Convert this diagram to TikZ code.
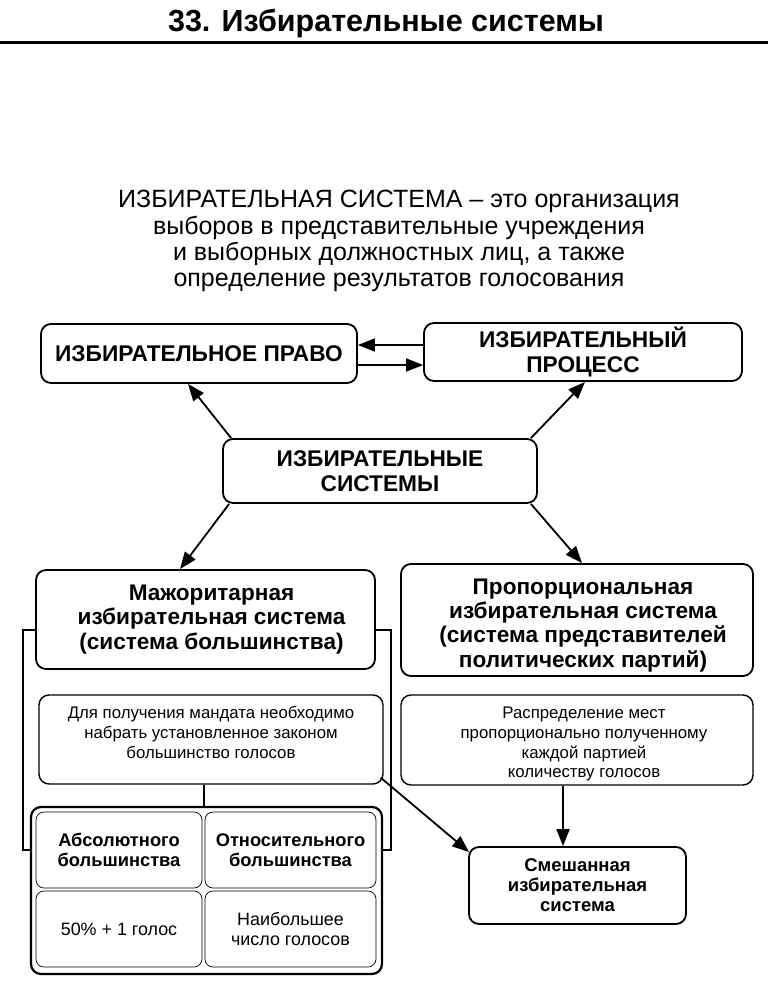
\documentclass[tikz,border=0pt]{standalone}
\usepackage{fontspec}
\setmainfont{Liberation Sans}
\usetikzlibrary{arrows.meta,calc}
\tikzset{
  box/.style={draw, line width=1.8pt, rounded corners=10pt, align=center, inner sep=0pt},
  descbox/.style={draw, line width=1.4pt, rounded corners=10pt, align=center, inner sep=0pt},
  cellbox/.style={draw, line width=0.7pt, rounded corners=8pt, align=center, inner sep=0pt},
  arr/.style={line width=1.8pt, -{Triangle[length=17pt,width=13pt]}},
  thinline/.style={line width=1.2pt},
  hfont/.style={font=\fontsize{22.7}{25}\selectfont\bfseries},
  mfont/.style={font=\fontsize{22.6}{24.3}\selectfont\bfseries},
  dfont/.style={font=\fontsize{16.8}{19.8}\selectfont},
  cfont/.style={font=\fontsize{17.9}{20}\selectfont},
  sfont/.style={font=\fontsize{18.3}{19.5}\selectfont\bfseries},
  xfont/.style={font=\fontsize{18.5}{20}\selectfont\bfseries}
}
\begin{document}
\begin{tikzpicture}[x=1pt,y=-1pt]
\useasboundingbox (0,0) rectangle (768,992);
\fill[white] (0,0) rectangle (768,992);
% title
\node[anchor=base, inner sep=0pt, font=\fontsize{30.5}{34}\selectfont\bfseries] (title) at (386,32) {33. Избирательные системы};
\coordinate (rl) at (0,43);
\coordinate (rr) at (768,43);
\draw[line width=3pt] (rl) -- (rr);
% definition
\node[align=center, inner sep=0pt, font=\fontsize{25}{26.2}\selectfont] (def) at (399,241)
  {ИЗБИРАТЕЛЬНАЯ СИСТЕМА – это организация\\
   выборов в представительные учреждения\\
   и выборных должностных лиц, а также\\
   определение результатов голосования};
% top boxes
\node[box, hfont, minimum width=316pt, minimum height=59pt] (pravo) at (199,353.5) {ИЗБИРАТЕЛЬНОЕ ПРАВО};
\node[box, hfont, minimum width=318pt, minimum height=58pt] (proc) at (583,352) {ИЗБИРАТЕЛЬНЫЙ\\ПРОЦЕСС};
\node[box, hfont, minimum width=314pt, minimum height=64pt] (sys) at (380,471) {ИЗБИРАТЕЛЬНЫЕ\\СИСТЕМЫ};
% second level
\node[box, mfont, minimum width=339pt, minimum height=99pt] (maj) at (205.5,619.5)
  {\hspace*{12pt}Мажоритарная\\\hspace*{12pt}избирательная система\\\hspace*{12pt}(система большинства)};
\node[box, mfont, minimum width=352pt, minimum height=112pt] (pro) at (577,620)
  {\mbox{}\\[1.5pt]\hspace*{12pt}Пропорциональная\\\hspace*{12pt}избирательная система\\\hspace*{12pt}(система представителей\\\hspace*{12pt}политических партий)};
% descriptions
\node[descbox, dfont, minimum width=344pt, minimum height=89pt] (mdesc) at (211,739.5)
  {Для получения мандата необходимо\\набрать установленное законом\\большинство голосов\\[-6pt]\mbox{}};
\node[descbox, dfont, minimum width=352pt, minimum height=90pt] (pdesc) at (577,740)
  {\mbox{}\\[0pt]\hspace*{14pt}Распределение мест\\\hspace*{14pt}пропорционально полученному\\\hspace*{14pt}каждой партией\\\hspace*{14pt}количеству голосов};
% grid
\node[draw, line width=2.2pt, rounded corners=10pt, minimum width=351pt, minimum height=167pt] (grid) at (206.5,890.5) {};
\node[cellbox, sfont, minimum width=166pt, minimum height=76pt] (c11) at (119,850) {Абсолютного\\большинства};
\node[cellbox, sfont, minimum width=171pt, minimum height=76pt] (c12) at (290.5,850) {Относительного\\большинства};
\node[cellbox, cfont, minimum width=166pt, minimum height=76pt] (c21) at (119,929) {50\% + 1 голос};
\node[cellbox, cfont, minimum width=171pt, minimum height=76pt] (c22) at (290.5,929) {Наибольшее\\число голосов};
% mixed
\node[box, xfont, minimum width=217pt, minimum height=77pt] (mixed) at (577.5,885.5) {Смешанная\\избирательная\\система};
% connectors
\draw[arr] (proc.west |- 0,345) -- (pravo.east |- 0,345);
\draw[arr] (pravo.east |- 0,365) -- (proc.west |- 0,365);
\draw[arr] ($(sys.north west)+(9,0)$) -- ($(pravo.south)+(-11,0)$);
\draw[arr] ($(sys.north east)+(-7,0)$) -- ($(proc.south)+(2,0)$);
\draw[arr] ($(sys.south west)+(7,0)$) -- ($(maj.north)+(-25.5,0)$);
\draw[arr] ($(sys.south east)+(-7,0)$) -- ($(pro.north)+(5,0)$);
\draw[thinline] (mdesc.south -| 204,0) -- (grid.north -| 204,0);
\draw[thinline] (maj.west |- 0,630) -- (23,630) -- (23,850) -- (grid.west |- 0,850);
\draw[thinline] (maj.east |- 0,630) -- (391,630) -- (391,850) -- (grid.east |- 0,850);
\draw[arr] ($(mdesc.south east)+(-3,-7)$) -- ($(mixed.north west)+(1,6)$);
\draw[arr] (pdesc.south -| 563,0) -- (mixed.north -| 563,0);
\end{tikzpicture}
\end{document}
